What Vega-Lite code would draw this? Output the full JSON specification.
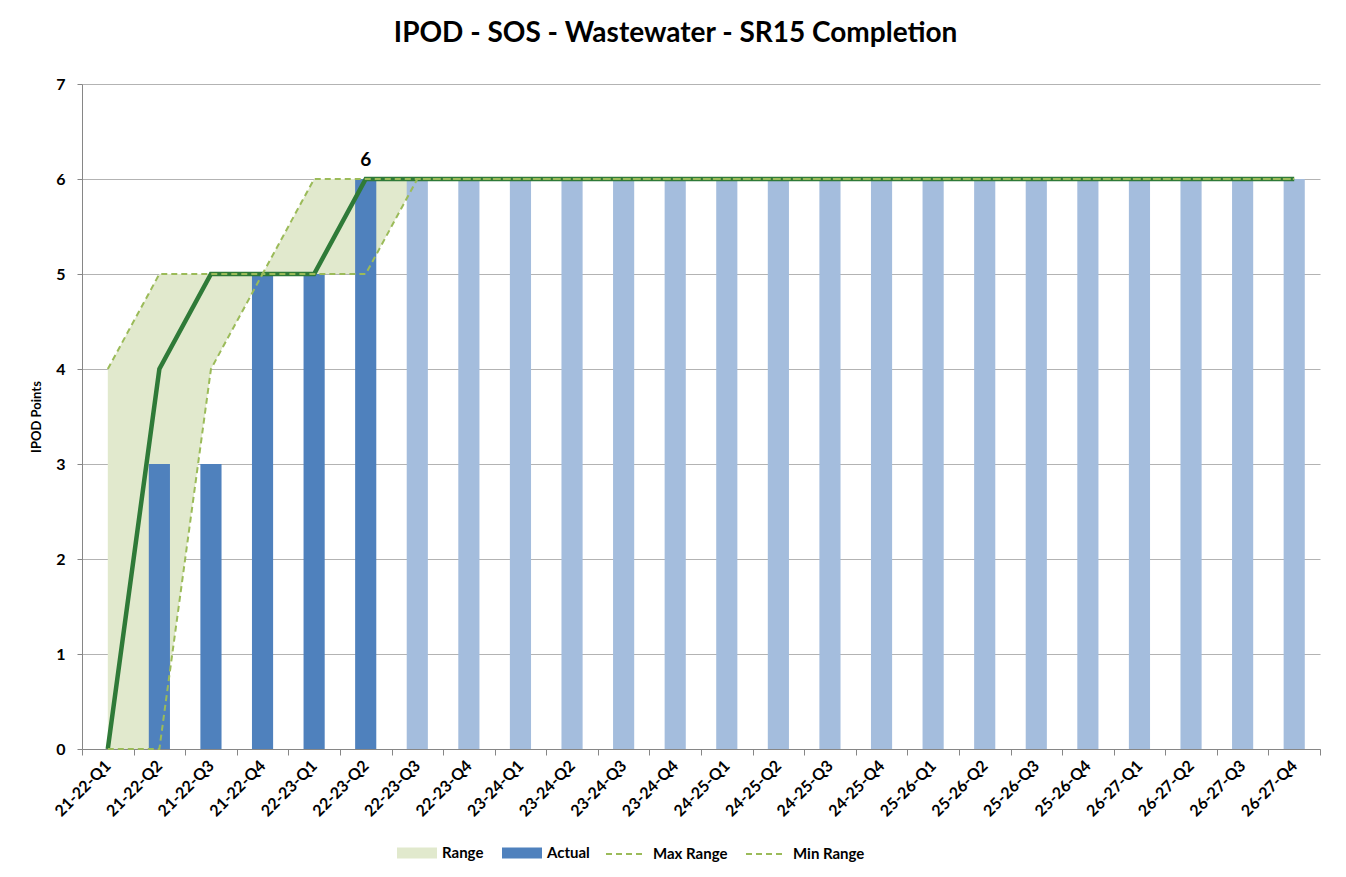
{
  "$schema": "https://vega.github.io/schema/vega-lite/v6.json",
  "autosize": {"type": "none"},
  "padding": {"left": 82, "top": 84, "right": 26, "bottom": 128},
  "width": 1238,
  "height": 665,
  "background": "white",
  "config": {
    "view": {"stroke": null},
    "font": "Lato"
  },
  "title": {
    "text": "IPOD - SOS - Wastewater - SR15 Completion",
    "font": "Lato",
    "fontSize": 28,
    "fontWeight": "bold",
    "color": "#000000",
    "anchor": "middle",
    "frame": "bounds",
    "baseline": "alphabetic",
    "offset": 6
  },
  "data": {
    "values": [
      {"q": "21-22-Q1", "actual": 0, "forecast": null, "target": 0, "Max Range": 4, "Min Range": 0, "label": null},
      {"q": "21-22-Q2", "actual": 3, "forecast": null, "target": 4, "Max Range": 5, "Min Range": 0, "label": null},
      {"q": "21-22-Q3", "actual": 3, "forecast": null, "target": 5, "Max Range": 5, "Min Range": 4, "label": null},
      {"q": "21-22-Q4", "actual": 5, "forecast": null, "target": 5, "Max Range": 5, "Min Range": 5, "label": null},
      {"q": "22-23-Q1", "actual": 5, "forecast": null, "target": 5, "Max Range": 6, "Min Range": 5, "label": null},
      {"q": "22-23-Q2", "actual": 6, "forecast": null, "target": 6, "Max Range": 6, "Min Range": 5, "label": "6"},
      {"q": "22-23-Q3", "actual": null, "forecast": 6, "target": 6, "Max Range": 6, "Min Range": 6, "label": null},
      {"q": "22-23-Q4", "actual": null, "forecast": 6, "target": 6, "Max Range": 6, "Min Range": 6, "label": null},
      {"q": "23-24-Q1", "actual": null, "forecast": 6, "target": 6, "Max Range": 6, "Min Range": 6, "label": null},
      {"q": "23-24-Q2", "actual": null, "forecast": 6, "target": 6, "Max Range": 6, "Min Range": 6, "label": null},
      {"q": "23-24-Q3", "actual": null, "forecast": 6, "target": 6, "Max Range": 6, "Min Range": 6, "label": null},
      {"q": "23-24-Q4", "actual": null, "forecast": 6, "target": 6, "Max Range": 6, "Min Range": 6, "label": null},
      {"q": "24-25-Q1", "actual": null, "forecast": 6, "target": 6, "Max Range": 6, "Min Range": 6, "label": null},
      {"q": "24-25-Q2", "actual": null, "forecast": 6, "target": 6, "Max Range": 6, "Min Range": 6, "label": null},
      {"q": "24-25-Q3", "actual": null, "forecast": 6, "target": 6, "Max Range": 6, "Min Range": 6, "label": null},
      {"q": "24-25-Q4", "actual": null, "forecast": 6, "target": 6, "Max Range": 6, "Min Range": 6, "label": null},
      {"q": "25-26-Q1", "actual": null, "forecast": 6, "target": 6, "Max Range": 6, "Min Range": 6, "label": null},
      {"q": "25-26-Q2", "actual": null, "forecast": 6, "target": 6, "Max Range": 6, "Min Range": 6, "label": null},
      {"q": "25-26-Q3", "actual": null, "forecast": 6, "target": 6, "Max Range": 6, "Min Range": 6, "label": null},
      {"q": "25-26-Q4", "actual": null, "forecast": 6, "target": 6, "Max Range": 6, "Min Range": 6, "label": null},
      {"q": "26-27-Q1", "actual": null, "forecast": 6, "target": 6, "Max Range": 6, "Min Range": 6, "label": null},
      {"q": "26-27-Q2", "actual": null, "forecast": 6, "target": 6, "Max Range": 6, "Min Range": 6, "label": null},
      {"q": "26-27-Q3", "actual": null, "forecast": 6, "target": 6, "Max Range": 6, "Min Range": 6, "label": null},
      {"q": "26-27-Q4", "actual": null, "forecast": 6, "target": 6, "Max Range": 6, "Min Range": 6, "label": null}
    ]
  },
  "encoding": {
    "x": {
      "field": "q",
      "type": "nominal",
      "sort": null,
      "scale": {"type": "band", "paddingInner": 0, "paddingOuter": 0},
      "axis": {
        "title": null,
        "tickBand": "extent",
        "ticks": true,
        "tickSize": 6,
        "tickColor": "#868686",
        "domainColor": "#868686",
        "grid": false,
        "labelAngle": -45,
        "labelAlign": "right",
        "labelBaseline": "middle",
        "labelPadding": 8,
        "labelFont": "Lato",
        "labelFontSize": 16,
        "labelFontWeight": "bold",
        "labelColor": "#000000",
        "labelOverlap": false,
        "labelBound": false
      }
    }
  },
  "layer": [
    {
      "mark": {"type": "area", "interpolate": "linear"},
      "encoding": {
        "y": {
          "field": "Min Range",
          "type": "quantitative",
          "scale": {"domain": [0, 7], "nice": false},
          "axis": {
            "title": "IPOD Points",
            "titleFont": "Lato",
            "titleFontSize": 13,
            "titleFontWeight": "bold",
            "titleColor": "#000000",
            "titlePadding": 12,
            "values": [0, 1, 2, 3, 4, 5, 6, 7],
            "format": "d",
            "grid": true,
            "gridColor": "#b3b3b3",
            "gridWidth": 1,
            "domainColor": "#868686",
            "tickColor": "#868686",
            "tickSize": 5,
            "labelFont": "Lato",
            "labelFontSize": 16,
            "labelFontWeight": "bold",
            "labelColor": "#000000",
            "labelPadding": 12
          }
        },
        "y2": {"field": "Max Range"},
        "color": {
          "datum": "Range",
          "type": "nominal",
          "scale": {"domain": ["Range", "Actual"], "range": ["#e1e9cd", "#4f81bd"]},
          "legend": {
            "title": null,
            "orient": "none",
            "legendX": 315,
            "legendY": 749,
            "padding": 0,
            "direction": "horizontal",
            "symbolType": "M-1,-0.28H1V0.28H-1Z",
            "symbolSize": 1600,
            "symbolStrokeWidth": 0,
            "symbolOpacity": 1,
            "labelFont": "Lato",
            "labelFontSize": 15,
            "labelFontWeight": "bold",
            "labelColor": "#000000",
            "labelOffset": 5,
            "columnPadding": 18
          }
        }
      }
    },
    {
      "mark": {"type": "bar", "width": {"band": 0.41}},
      "encoding": {
        "y": {"field": "actual", "type": "quantitative"},
        "color": {"datum": "Actual", "type": "nominal"}
      }
    },
    {
      "mark": {"type": "bar", "color": "#a4bddd", "width": {"band": 0.41}},
      "encoding": {"y": {"field": "forecast", "type": "quantitative"}}
    },
    {
      "mark": {"type": "line", "color": "#2f7a38", "strokeWidth": 4.5, "strokeJoin": "miter", "strokeCap": "butt"},
      "encoding": {"y": {"field": "target", "type": "quantitative"}}
    },
    {
      "transform": [{"fold": ["Max Range", "Min Range"], "as": ["series", "val"]}],
      "mark": {"type": "line", "strokeCap": "butt", "strokeWidth": 2},
      "encoding": {
        "y": {"field": "val", "type": "quantitative"},
        "detail": {"field": "series"},
        "stroke": {
          "field": "series",
          "type": "nominal",
          "scale": {"domain": ["Max Range", "Min Range"], "range": ["#9bbb59", "#9bbb59"]},
          "legend": {
            "title": null,
            "orient": "none",
            "legendX": 523,
            "legendY": 749,
            "padding": 0,
            "direction": "horizontal",
            "symbolType": "stroke",
            "symbolSize": 1600,
            "symbolStrokeWidth": 2,
            "labelFont": "Lato",
            "labelFontSize": 15,
            "labelFontWeight": "bold",
            "labelColor": "#000000",
            "labelOffset": 6,
            "columnPadding": 14
          }
        },
        "strokeDash": {
          "field": "series",
          "type": "nominal",
          "scale": {"domain": ["Max Range", "Min Range"], "range": [[6, 4], [6, 4]]},
          "legend": {
            "title": null,
            "orient": "none",
            "legendX": 523,
            "legendY": 749,
            "padding": 0,
            "direction": "horizontal",
            "symbolType": "stroke",
            "symbolSize": 1600,
            "symbolStrokeWidth": 2,
            "labelFont": "Lato",
            "labelFontSize": 15,
            "labelFontWeight": "bold",
            "labelColor": "#000000",
            "labelOffset": 6,
            "columnPadding": 14
          }
        }
      }
    },
    {
      "transform": [{"filter": "datum.label != null"}],
      "mark": {"type": "text", "font": "Lato", "fontSize": 19, "fontWeight": "bold", "color": "#000000", "baseline": "middle", "dy": -19},
      "encoding": {
        "y": {"field": "actual", "type": "quantitative"},
        "text": {"field": "label"}
      }
    }
  ]
}
